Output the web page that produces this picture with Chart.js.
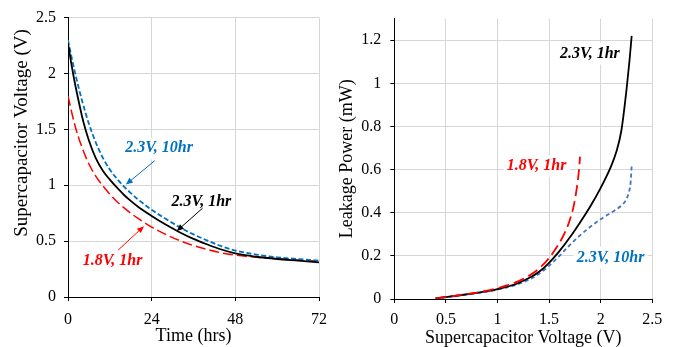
<!DOCTYPE html>
<html><head><meta charset="utf-8">
<script src="https://cdn.jsdelivr.net/npm/chart.js@4.4.0/dist/chart.umd.min.js"></script>
<style>
html,body{margin:0;padding:0;background:#fff;overflow:hidden;}
#w{position:relative;width:685px;height:347px;background:#fff;}
#c1{position:absolute;left:0;top:0;width:336px;height:347px;}
#c2{position:absolute;left:330px;top:0;width:355px;height:347px;}
</style></head><body>
<div id="w"><canvas id="c1" width="336" height="347"></canvas><canvas id="c2" width="355" height="347"></canvas></div>
<script>
// ---- Left panel: supercapacitor voltage vs time ----
const timeHrs   = [0,1,2,3,4,5,6,8,10,12,14,16,18,20,24,28,32,36,40,44,48,54,60,66,72];
const v23_1hr   = [2.27,2.08,1.91,1.76,1.62,1.50,1.40,1.24,1.13,1.05,0.98,0.915,0.86,0.81,0.725,0.648,0.58,0.52,0.47,0.425,0.39,0.36,0.34,0.325,0.31];
const v23_10hr  = [2.30,2.15,2.01,1.88,1.76,1.65,1.55,1.38,1.245,1.14,1.06,0.99,0.93,0.875,0.78,0.70,0.625,0.56,0.505,0.455,0.415,0.38,0.355,0.34,0.325];
const v18_1hr   = [1.80,1.66,1.535,1.43,1.34,1.26,1.19,1.08,0.995,0.92,0.855,0.80,0.75,0.705,0.625,0.56,0.505,0.46,0.425,0.395,0.375,0.355,0.343,0.332,0.32];
const timeTicks = [0,24,48,72];
const voltTicks = [0,0.5,1,1.5,2,2.5];

// ---- Right panel: leakage power vs voltage ----
const pv23_1hr  = [0.4,0.5,0.6,0.7,0.8,0.9,1.0,1.1,1.2,1.3,1.4,1.5,1.6,1.7,1.8,1.9,2.0,2.1,2.15,2.2,2.25,2.28,2.3];
const pw23_1hr  = [0.003,0.009,0.015,0.021,0.028,0.036,0.046,0.058,0.074,0.096,0.125,0.168,0.222,0.285,0.355,0.43,0.515,0.615,0.68,0.78,0.97,1.11,1.22];
const pv18_1hr  = [0.4,0.5,0.6,0.7,0.8,0.9,1.0,1.1,1.2,1.3,1.4,1.5,1.6,1.65,1.7,1.74,1.77,1.79,1.8];
const pw18_1hr  = [0.003,0.009,0.016,0.023,0.03,0.039,0.05,0.064,0.082,0.106,0.14,0.19,0.26,0.305,0.365,0.435,0.52,0.6,0.66];
const pv23_10hr = [0.4,0.5,0.6,0.7,0.8,0.9,1.0,1.1,1.2,1.3,1.4,1.5,1.6,1.7,1.8,1.9,2.0,2.1,2.15,2.2,2.24,2.27,2.29,2.3];
const pw23_10hr = [0.003,0.009,0.015,0.021,0.027,0.034,0.044,0.055,0.069,0.088,0.116,0.155,0.2,0.25,0.295,0.335,0.37,0.4,0.415,0.433,0.455,0.49,0.54,0.615];
const pVoltTicks = [0,0.5,1,1.5,2,2.5];
const powerTicks = [0,0.2,0.4,0.6,0.8,1,1.2];

const seriesNames = ['2.3V, 1hr','2.3V, 10hr','1.8V, 1hr'];

const FONT = "'Liberation Serif','Times New Roman',serif";
Chart.defaults.font.family = FONT;
Chart.defaults.color = '#000';

const pts = (xs, ys) => xs.map((x,i)=>({x, y: ys[i]}));
const fmt = v => String(Math.round(v*100)/100);

function annPlugin(cfg){
  return {
    id: 'ann',
    beforeDatasetsDraw(chart){
      const ctx = chart.ctx, xs = chart.scales.x, ys = chart.scales.y;
      ctx.save();
      ctx.font = 'italic bold 16px ' + FONT;
      cfg.labels.forEach(l=>{
        const w = ctx.measureText(l.text).width;
        const x = xs.getPixelForValue(l.x), y = ys.getPixelForValue(l.y);
        ctx.fillStyle = '#fff';
        ctx.fillRect(x-3, y-11, w+6, 22);
      });
      ctx.restore();
    },
    afterDatasetsDraw(chart){
      const ctx = chart.ctx, xs = chart.scales.x, ys = chart.scales.y;
      ctx.save();
      cfg.arrows.forEach(a=>{
        const x1 = xs.getPixelForValue(a.x1), y1 = ys.getPixelForValue(a.y1);
        const x2 = xs.getPixelForValue(a.x2), y2 = ys.getPixelForValue(a.y2);
        const ang = Math.atan2(y2-y1, x2-x1);
        ctx.strokeStyle = a.color; ctx.fillStyle = a.color; ctx.lineWidth = 1;
        ctx.beginPath(); ctx.moveTo(x1,y1);
        ctx.lineTo(x2-5*Math.cos(ang), y2-5*Math.sin(ang)); ctx.stroke();
        ctx.beginPath(); ctx.moveTo(x2,y2);
        ctx.lineTo(x2-7*Math.cos(ang)+3*Math.sin(ang), y2-7*Math.sin(ang)-3*Math.cos(ang));
        ctx.lineTo(x2-7*Math.cos(ang)-3*Math.sin(ang), y2-7*Math.sin(ang)+3*Math.cos(ang));
        ctx.closePath(); ctx.fill();
      });
      ctx.font = 'italic bold 16px ' + FONT;
      ctx.textBaseline = 'middle'; ctx.textAlign = 'left';
      cfg.labels.forEach(l=>{
        ctx.fillStyle = l.color;
        ctx.fillText(l.text, xs.getPixelForValue(l.x), ys.getPixelForValue(l.y));
      });
      if (cfg.yTitle) {
        const t = cfg.yTitle;
        ctx.translate(t.cx, t.cy);
        ctx.rotate(-Math.PI/2);
        ctx.font = t.size + 'px ' + FONT;
        ctx.fillStyle = '#000';
        ctx.textAlign = 'center'; ctx.textBaseline = 'middle';
        ctx.fillText(t.text, 0, 0);
      }
      ctx.restore();
    }
  };
}

function axis(opts){
  return Object.assign({
    type: 'linear',
    grid: {color: '#d6d6d6', lineWidth: 1, tickColor: '#000', tickLength: 4, drawTicks: true},
    border: {color: '#000', width: 1},
  }, opts);
}

// Left chart
new Chart(document.getElementById('c1'), {
  type: 'scatter',
  data: { datasets: [
    {label: seriesNames[0], data: pts(timeHrs, v23_1hr), showLine: true, borderColor: '#000', borderWidth: 1.8, pointRadius: 0, cubicInterpolationMode: 'monotone', order: 1},
    {label: seriesNames[1], data: pts(timeHrs, v23_10hr), showLine: true, borderColor: '#0070C0', borderWidth: 1.8, borderDash: [5,2.5], pointRadius: 0, cubicInterpolationMode: 'monotone', order: 2},
    {label: seriesNames[2], data: pts(timeHrs, v18_1hr), showLine: true, borderColor: '#FF0000', borderWidth: 1.5, borderDash: [10,4], pointRadius: 0, cubicInterpolationMode: 'monotone', order: 3},
  ]},
  options: {
    responsive: false, animation: false, devicePixelRatio: 1,
    layout: {padding: {top: 13, right: 17, left: 0, bottom: 0}},
    plugins: {legend: {display: false}, tooltip: {enabled: false}},
    scales: {
      x: axis({min: 0, max: 72,
        afterBuildTicks: s => { s.ticks = timeTicks.map(v=>({value:v})); },
        afterFit: s => { s.height = 50; },
        ticks: {font: {size: 16}, padding: 9, maxRotation: 0, callback: fmt},
        title: {display: true, text: 'Time (hrs)', font: {size: 18}, padding: {top: 0, bottom: 0}}}),
      y: axis({min: 0, max: 2.5,
        afterBuildTicks: s => { s.ticks = voltTicks.map(v=>({value:v})); },
        afterFit: s => { s.width = 68; },
        ticks: {font: {size: 16}, padding: 8, callback: fmt},
        title: {display: false}}),
    }
  },
  plugins: [annPlugin({
    labels: [
      {text: seriesNames[1], color: '#0070C0', x: 16.4, y: 1.33},
      {text: seriesNames[0], color: '#000000', x: 29.7, y: 0.854},
      {text: seriesNames[2], color: '#FF0000', x: 4.2, y: 0.326},
    ],
    arrows: [
      {color: '#0070C0', x1: 24.9, y1: 1.22, x2: 16.6, y2: 1.006},
      {color: '#000000', x1: 38.6, y1: 0.795, x2: 31.2, y2: 0.59},
      {color: '#FF0000', x1: 14.4, y1: 0.42, x2: 21.8, y2: 0.634},
    ],
    yTitle: {text: 'Supercapacitor Voltage (V)', size: 19, cx: 22, cy: 133}
  })]
});

// Right chart
new Chart(document.getElementById('c2'), {
  type: 'scatter',
  data: { datasets: [
    {label: seriesNames[0], data: pts(pv23_1hr, pw23_1hr), showLine: true, borderColor: '#000', borderWidth: 1.8, pointRadius: 0, cubicInterpolationMode: 'monotone', order: 1},
    {label: seriesNames[1], data: pts(pv23_10hr, pw23_10hr), showLine: true, borderColor: '#4472C4', borderWidth: 1.8, borderDash: [4,3], pointRadius: 0, cubicInterpolationMode: 'monotone', order: 2},
    {label: seriesNames[2], data: pts(pv18_1hr, pw18_1hr), showLine: true, borderColor: '#FF0000', borderWidth: 1.8, borderDash: [11,5], pointRadius: 0, cubicInterpolationMode: 'monotone', order: 0},
  ]},
  options: {
    responsive: false, animation: false, devicePixelRatio: 1,
    layout: {padding: {top: 13, right: 32.7, left: 0, bottom: 0}},
    plugins: {legend: {display: false}, tooltip: {enabled: false}},
    scales: {
      x: axis({min: 0, max: 2.5,
        afterBuildTicks: s => { s.ticks = pVoltTicks.map(v=>({value:v})); },
        afterFit: s => { s.height = 48; },
        ticks: {font: {size: 16}, padding: 7, maxRotation: 0, callback: fmt},
        title: {display: true, text: 'Supercapacitor Voltage (V)', font: {size: 18}, padding: {top: 0, bottom: -2}}}),
      y: axis({min: 0, max: 1.3,
        afterBuildTicks: s => { s.ticks = powerTicks.map(v=>({value:v})); },
        afterFit: s => { s.width = 64.3; },
        ticks: {font: {size: 16}, padding: 9, callback: fmt},
        title: {display: true, text: 'Leakage Power (mW)', font: {size: 18}, padding: {top: 6, bottom: 0}}}),
    }
  },
  plugins: [annPlugin({
    labels: [
      {text: seriesNames[0], color: '#000000', x: 1.606, y: 1.138},
      {text: seriesNames[2], color: '#FF0000', x: 1.089, y: 0.616},
      {text: seriesNames[1], color: '#0070C0', x: 1.767, y: 0.192},
    ],
    arrows: []
  })]
});
</script>
</body></html>
